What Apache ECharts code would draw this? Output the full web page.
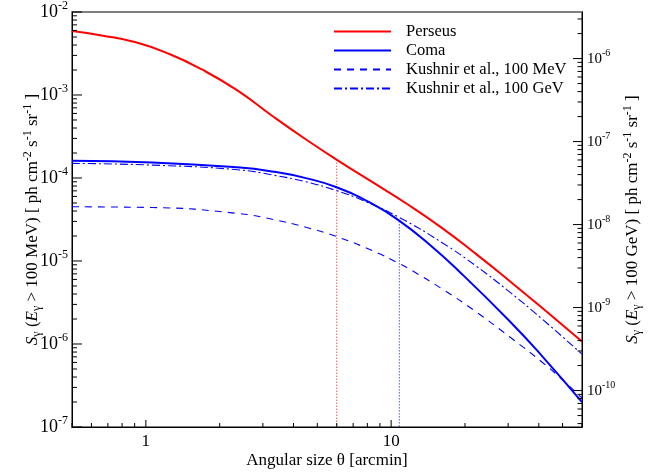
<!DOCTYPE html>
<html><head><meta charset="utf-8">
<script src="https://cdn.jsdelivr.net/npm/echarts@6/dist/echarts.min.js"></script>
<style>html,body{margin:0;padding:0;background:#fff}#c{width:651px;height:474px}</style>
</head><body><div id="c"></div>
<script>
// ---- data ----
const perseusTheta = [0.5, 0.661, 0.910, 1.241, 1.692, 2.352, 3.268, 4.499, 5.965, 8.365, 11.62, 16.15, 22.23, 30.3, 42.5, 60];
const perseusS = [5.90e-3, 5.22e-3, 4.31e-3, 3.14e-3, 2.03e-3, 1.143e-3, 5.63e-4, 2.91e-4, 1.68e-4, 8.96e-5, 4.86e-5, 2.49e-5, 1.21e-5, 5.79e-6, 2.53e-6, 1.07e-6];

const comaTheta = [0.5, 1.06, 2.36, 3.28, 4.49, 5.95, 8.39, 10.85, 14.29, 18.95, 30.3, 41.5, 60];
const comaS = [1.609e-4, 1.540e-4, 1.343e-4, 1.198e-4, 9.97e-5, 7.79e-5, 4.87e-5, 3.02e-5, 1.591e-5, 7.48e-6, 1.907e-6, 7.01e-7, 1.99e-7];

const kMeVTheta = [0.5, 1.06, 2.36, 3.28, 4.49, 6.0, 8.39, 10.85, 12.22, 16.2, 22.2, 30.3, 41.5, 51.6, 60];
const kMeVS = [4.50e-5, 4.41e-5, 3.75e-5, 3.18e-5, 2.55e-5, 1.965e-5, 1.332e-5, 9.24e-6, 7.61e-6, 4.57e-6, 2.44e-6, 1.231e-6, 5.95e-7, 3.39e-7, 2.23e-7];

const kGeVTheta = [0.5, 1.06, 2.36, 3.28, 4.49, 5.95, 7.88, 10.85, 16.2, 22.2, 30.3, 41.5, 60];
const kGeVS = [1.499e-4, 1.430e-4, 1.259e-4, 1.088e-4, 8.99e-5, 7.09e-5, 5.19e-5, 3.32e-5, 1.650e-5, 8.70e-6, 4.27e-6, 1.970e-6, 7.54e-7];

// vertical markers [theta, top value]
const perseusMark = [6.0, 1.66e-4];
const comaMark = [10.8, 3.0e-5];

// tick labels
const xTicks = [1, 10];
const leftTicks = [1e-7, 1e-6, 1e-5, 1e-4, 1e-3, 1e-2];
const rightTicks = [1e-10, 1e-9, 1e-8, 1e-7, 1e-6];

const seriesNames = ['Perseus', 'Coma', 'Kushnir et al., 100 MeV', 'Kushnir et al., 100 GeV'];

// ---- helpers ----
function pairs(xs, ys) { return xs.map((x, i) => [x, ys[i]]); }
function minors(lo, hi) {
  const out = [];
  for (let e = Math.floor(Math.log10(lo)); e <= Math.ceil(Math.log10(hi)); e++) {
    for (let m = 2; m <= 9; m++) {
      const v = m * Math.pow(10, e);
      if (v >= lo * 0.999 && v <= hi * 1.001) out.push(v);
    }
  }
  return out;
}
const FONT = 'Liberation Serif';
const X_MIN = 0.4999, X_MAX = 60.0;
const L_MIN = 0.9999e-7, L_MAX = 1.0001e-2;
const R_MIN = 3.64e-11, R_MAX = 3.64e-6;

function expFmt(v) {
  const e = Math.round(Math.log10(v));
  return '{b|10}{s|' + (e < 0 ? '-' + (-e) : e) + '}';
}

// tick mark data: [x, y, length]
const leftTickData = leftTicks.map(v => [X_MIN, v, 10]).concat(minors(1e-7, 1e-2).map(v => [X_MIN, v, 5]));
const rightTickData = rightTicks.map(v => [X_MAX, v, 9]).concat(minors(R_MIN, R_MAX).map(v => [X_MAX, v, 4.5]));
const bottomTickData = xTicks.map(v => [v, L_MIN, 7]).concat(minors(0.5, 60).map(v => [v, L_MIN, 4]));

function tickRenderer(side) {
  return function (params, api) {
    const p = api.coord([api.value(0), api.value(1)]);
    const len = api.value(2);
    let shape;
    if (side === 'left') shape = {x1: p[0], y1: p[1], x2: p[0] + len, y2: p[1]};
    else if (side === 'right') shape = {x1: p[0], y1: p[1], x2: p[0] - len, y2: p[1]};
    else shape = {x1: p[0], y1: p[1], x2: p[0], y2: p[1] - len};
    return {type: 'line', shape: shape, style: {stroke: '#000', lineWidth: 1}};
  };
}

const chart = echarts.init(document.getElementById('c'), null, {renderer: 'canvas'});

const titleRich = {
  n: {fontFamily: FONT, fontSize: 17, color: '#000'},
  it: {fontFamily: FONT, fontSize: 17, fontStyle: 'italic', color: '#000'},
  sub: {fontFamily: FONT, fontSize: 12, color: '#000', padding: [8, 0, 0, 0]},
  sup: {fontFamily: FONT, fontSize: 12, color: '#000', padding: [0, 0, 10, 0]}
};
const leftName = '{it|S}{sub|γ}{n| (}{it|E}{sub|γ}{n| > 100 MeV) [ ph cm}{sup|-2}{n| s}{sup|-1}{n| sr}{sup|-1}{n| ]}';
const rightName = '{it|S}{sub|γ}{n| (}{it|E}{sub|γ}{n| > 100 GeV) [ ph cm}{sup|-2}{n| s}{sup|-1}{n| sr}{sup|-1}{n| ]}';

const axisLineBlack = {show: true, lineStyle: {color: '#000', width: 1}};

const option = {
  animation: false,
  backgroundColor: '#fff',
  grid: {left: 72, right: 68, top: 6, bottom: 47, show: true, borderColor: '#555', borderWidth: 1.5, backgroundColor: 'transparent'},
  legend: {
    data: seriesNames,
    orient: 'vertical',
    left: 328, top: 17,
    itemWidth: 57, itemHeight: 14, itemGap: 0,
    itemStyle: {color: 'rgba(0,0,0,0)', borderColor: 'rgba(0,0,0,0)', borderWidth: 0, opacity: 0},
    textStyle: {fontFamily: FONT, fontSize: 16.5, color: '#000', lineHeight: 19, padding: [0, 0, 0, 10]}
  },
  xAxis: [
    {
      type: 'log', min: X_MIN, max: X_MAX, position: 'bottom',
      axisLine: axisLineBlack,
      axisTick: {show: false},
      axisLabel: {show: true, customValues: xTicks, margin: 6, fontFamily: FONT, fontSize: 17, color: '#000',
        formatter: v => String(Math.round(v))},
      splitLine: {show: false}, minorTick: {show: false},
      name: 'Angular size θ [arcmin]', nameLocation: 'middle', nameGap: 25, nameMoveOverlap: false,
      nameTextStyle: {fontFamily: FONT, fontSize: 17, color: '#000'}
    }
  ],
  yAxis: [
    {
      type: 'log', min: L_MIN, max: L_MAX, position: 'left',
      axisLine: axisLineBlack,
      axisTick: {show: false},
      axisLabel: {show: true, customValues: leftTicks, margin: 4, formatter: expFmt,
        rich: {b: {fontFamily: FONT, fontSize: 18, color: '#000'}, s: {fontFamily: FONT, fontSize: 12, color: '#000', padding: [0, 0, 12, 0]}}},
      splitLine: {show: false},
      name: leftName, nameLocation: 'middle', nameGap: 28, nameRotate: 90, nameMoveOverlap: false,
      nameTextStyle: {fontFamily: FONT, fontSize: 17, color: '#000', rich: titleRich}
    },
    {
      type: 'log', min: R_MIN, max: R_MAX, position: 'right',
      axisLine: axisLineBlack,
      axisTick: {show: false},
      axisLabel: {show: true, customValues: rightTicks, margin: 5, formatter: expFmt,
        rich: {b: {fontFamily: FONT, fontSize: 15, color: '#000'}, s: {fontFamily: FONT, fontSize: 10, color: '#000', padding: [0, 0, 10, 0]}}},
      splitLine: {show: false},
      name: rightName, nameLocation: 'middle', nameGap: 40, nameRotate: 90, nameMoveOverlap: false,
      nameTextStyle: {fontFamily: FONT, fontSize: 17, color: '#000', rich: titleRich}
    }
  ],
  series: [
    {type: 'custom', name: 'leftTicks', xAxisIndex: 0, yAxisIndex: 0, clip: false, silent: true, z: 5,
      renderItem: tickRenderer('left'), data: leftTickData},
    {type: 'custom', name: 'rightTicks', xAxisIndex: 0, yAxisIndex: 1, clip: false, silent: true, z: 5,
      renderItem: tickRenderer('right'), data: rightTickData},
    {type: 'custom', name: 'bottomTicks', xAxisIndex: 0, yAxisIndex: 0, clip: false, silent: true, z: 5,
      renderItem: tickRenderer('bottom'), data: bottomTickData},
    {
      name: 'perseusMark', type: 'line', silent: true, symbol: 'none', z: 1,
      data: [[perseusMark[0], perseusMark[1]], [perseusMark[0], L_MIN]],
      lineStyle: {color: '#ff0000', width: 1, type: [1, 2]}
    },
    {
      name: 'comaMark', type: 'line', silent: true, symbol: 'none', z: 1,
      data: [[comaMark[0], comaMark[1]], [comaMark[0], L_MIN]],
      lineStyle: {color: '#0000ff', width: 1, type: [1, 2]}
    },
    {
      name: seriesNames[2], type: 'line', symbol: 'none', smooth: 0.5, z: 2,
      data: pairs(kMeVTheta, kMeVS),
      lineStyle: {color: '#0000ff', width: 1.1, type: [7, 6]}, itemStyle: {color: '#0000ff'}
    },
    {
      name: seriesNames[3], type: 'line', symbol: 'none', smooth: 0.5, z: 2,
      data: pairs(kGeVTheta, kGeVS),
      lineStyle: {color: '#0000ff', width: 1.1, type: [8, 3, 2, 3]}, itemStyle: {color: '#0000ff'}
    },
    {
      name: seriesNames[1], type: 'line', symbol: 'none', smooth: 0.5, z: 3,
      data: pairs(comaTheta, comaS),
      lineStyle: {color: '#0000ff', width: 2}, itemStyle: {color: '#0000ff'}
    },
    {
      name: seriesNames[0], type: 'line', symbol: 'none', smooth: 0.5, z: 3,
      data: pairs(perseusTheta, perseusS),
      lineStyle: {color: '#ff0000', width: 2}, itemStyle: {color: '#ff0000'}
    }
  ]
};
chart.setOption(option);
</script></body></html>
